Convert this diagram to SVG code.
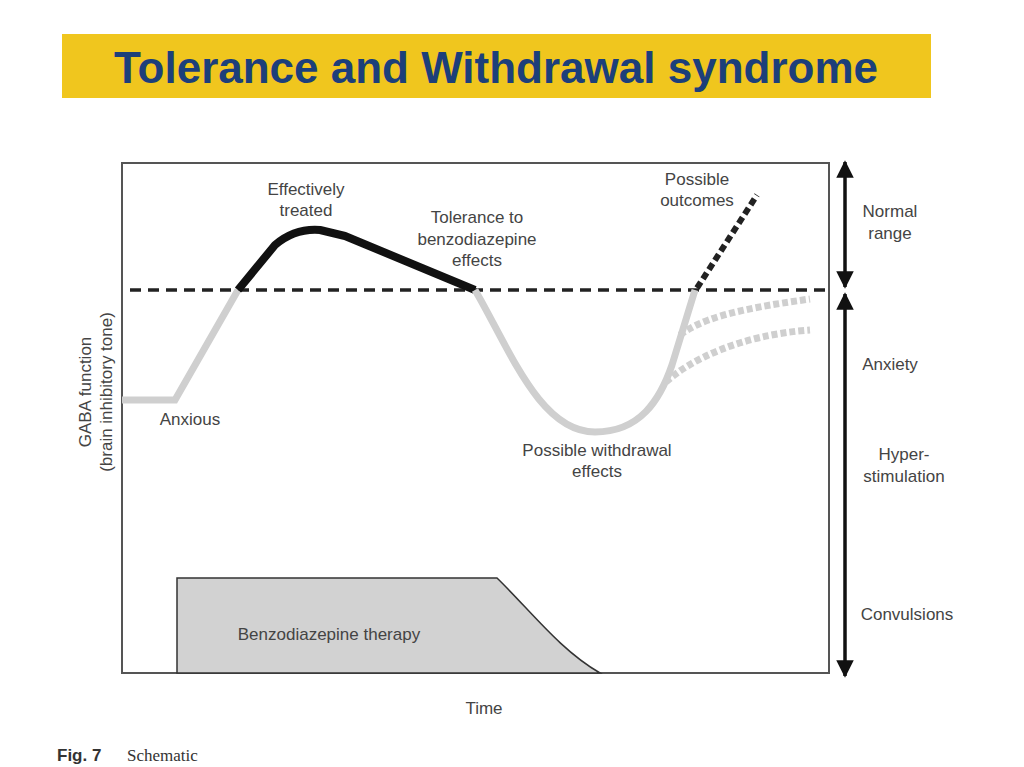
<svg xmlns="http://www.w3.org/2000/svg" width="1024" height="767" viewBox="0 0 1024 767">
<style>
.t{font-family:"Liberation Sans",Arial,sans-serif;font-size:17px;fill:#444}
.g{fill:none;stroke:#cfcfcf;stroke-width:7}
.gd{fill:none;stroke:#cfcfcf;stroke-width:7;stroke-dasharray:6 3}
</style>
<defs>
<marker id="ah" viewBox="0 0 10 10" refX="9" refY="5" markerWidth="5" markerHeight="5" orient="auto-start-reverse"><path d="M0,0L10,5L0,10z" fill="#111"/></marker>
</defs>
<rect width="1024" height="767" fill="#fff"/>
<rect x="62" y="34" width="869" height="64" fill="#f0c61e"/>
<text x="496" y="83" text-anchor="middle" font-family="'Liberation Sans',Arial,sans-serif" font-weight="bold" font-size="44" fill="#1c3f7a">Tolerance and Withdrawal syndrome</text>
<rect x="122" y="163" width="707" height="510" fill="none" stroke="#555" stroke-width="2"/>
<line x1="130" y1="290" x2="829" y2="290" stroke="#222" stroke-width="3.5" stroke-dasharray="11 7"/>
<path d="M177,578H497C530,610 560,650 600,673H177Z" fill="#d2d2d2" stroke="#333" stroke-width="1.5"/>
<g id="curves">
<path class="g" d="M122,400H175L238,290"/>
<path d="M238,290L275,245Q295,228 320,230L345,236L475,290" fill="none" stroke="#111" stroke-width="8" stroke-linejoin="round"/>
<path class="g" d="M475,290C510,350 540,432 595,432C640,432 660,400 672,365L695,290"/>
<path class="gd" d="M680,335C700,320 730,310 810,299"/>
<path class="gd" d="M666,382C690,360 740,335 810,330"/>
<path d="M697,288L757,195" fill="none" stroke="#222" stroke-width="6" stroke-dasharray="7 4"/>
</g>
<g id="arrows" stroke="#111" stroke-width="3.5">
<line x1="845" y1="162" x2="845" y2="287" marker-start="url(#ah)" marker-end="url(#ah)"/>
<line x1="845" y1="294" x2="845" y2="676" marker-start="url(#ah)" marker-end="url(#ah)"/>
</g>
<text class="t" x="306" y="195" text-anchor="middle">Effectively</text>
<text class="t" x="306" y="216" text-anchor="middle">treated</text>
<text class="t" x="477" y="223" text-anchor="middle">Tolerance to</text>
<text class="t" x="477" y="245" text-anchor="middle">benzodiazepine</text>
<text class="t" x="477" y="266" text-anchor="middle">effects</text>
<text class="t" x="697" y="185" text-anchor="middle">Possible</text>
<text class="t" x="697" y="206" text-anchor="middle">outcomes</text>
<text class="t" x="190" y="425" text-anchor="middle">Anxious</text>
<text class="t" x="597" y="456" text-anchor="middle">Possible withdrawal</text>
<text class="t" x="597" y="477" text-anchor="middle">effects</text>
<text class="t" x="329" y="640" text-anchor="middle">Benzodiazepine therapy</text>
<text class="t" x="890" y="217" text-anchor="middle">Normal</text>
<text class="t" x="890" y="239" text-anchor="middle">range</text>
<text class="t" x="890" y="370" text-anchor="middle">Anxiety</text>
<text class="t" x="904" y="460" text-anchor="middle">Hyper-</text>
<text class="t" x="904" y="482" text-anchor="middle">stimulation</text>
<text class="t" x="907" y="620" text-anchor="middle">Convulsions</text>
<text class="t" x="484" y="714" text-anchor="middle">Time</text>
<text class="t" transform="translate(91,392) rotate(-90)" text-anchor="middle">GABA function</text>
<text class="t" transform="translate(112,392) rotate(-90)" text-anchor="middle">(brain inhibitory tone)</text>
<text x="57" y="761" font-family="'Liberation Sans',Arial,sans-serif" font-weight="bold" font-size="17" fill="#333">Fig. 7</text>
<text x="127" y="761" font-family="'Liberation Serif',serif" font-size="17" fill="#333">Schematic</text>
</svg>
